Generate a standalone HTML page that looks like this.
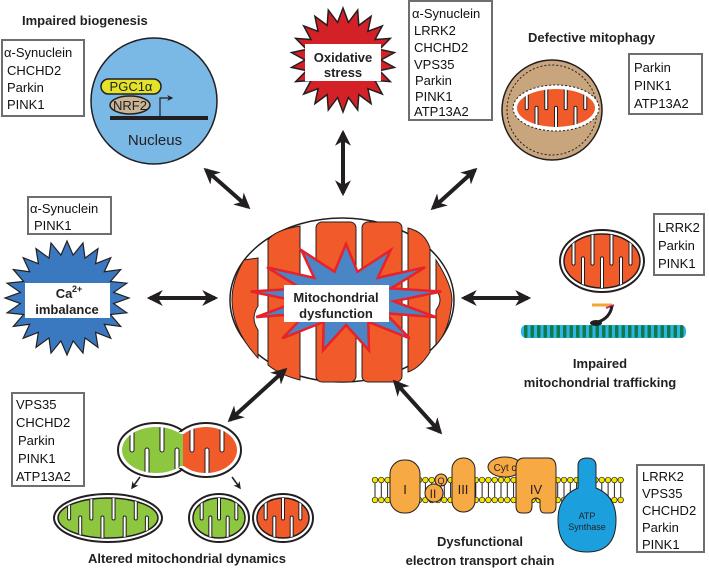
<!DOCTYPE html>
<html><head><meta charset="utf-8"><style>
html,body{margin:0;padding:0;background:#fff;}
svg{display:block;}
text{font-family:"Liberation Sans",sans-serif;}
.b{font-weight:bold;font-size:13px;fill:#231f20;}
.l{font-size:13px;fill:#111;}
</style></head><body>
<svg id="s" width="709" height="570" viewBox="0 0 709 570" xmlns="http://www.w3.org/2000/svg">
<defs>
<marker id="ah" viewBox="0 0 10 10" refX="8" refY="5" markerWidth="4" markerHeight="4" orient="auto-start-reverse"><path d="M0,0 L10,5 L0,10 L3,5 z" fill="#231f20"/></marker>
<marker id="ah2" viewBox="0 0 10 10" refX="8" refY="5" markerWidth="5" markerHeight="5" orient="auto"><path d="M0,0 L10,5 L0,10 L3,5 z" fill="#231f20"/></marker>
</defs>
<g id="g"></g>
<g stroke="#231f20" stroke-width="4" fill="none" marker-start="url(#ah)" marker-end="url(#ah)">
<line x1="206" y1="170" x2="248" y2="207"/>
<line x1="343" y1="133" x2="343" y2="193"/>
<line x1="475" y1="170" x2="433" y2="208"/>
<line x1="150" y1="298" x2="215" y2="298"/>
<line x1="464" y1="298" x2="528" y2="298"/>
<line x1="230" y1="420" x2="285" y2="370"/>
<line x1="395" y1="382" x2="440" y2="432"/>
</g>
<g stroke="#231f20" stroke-width="1.5" marker-end="url(#ah2)">
<line x1="140" y1="477" x2="132" y2="488"/>
<line x1="232" y1="477" x2="240" y2="488"/>
</g>
<g fill="#fff" stroke="#6d6e71" stroke-width="2">
<rect x="2" y="40" width="82" height="76"/>
<rect x="409" y="1" width="83" height="119"/>
<rect x="629" y="54" width="73" height="60"/>
<rect x="28" y="197" width="83" height="37"/>
<rect x="654" y="214" width="50" height="61"/>
<rect x="12" y="393" width="72" height="93"/>
<rect x="637" y="465" width="67" height="87"/>
</g>
<g class="l">
<text x="4" y="57">α-Synuclein</text><text x="7" y="75">CHCHD2</text><text x="7" y="92">Parkin</text><text x="7" y="109">PINK1</text>
<text x="412" y="18">α-Synuclein</text><text x="414" y="35">LRRK2</text><text x="414" y="52">CHCHD2</text><text x="414" y="69">VPS35</text><text x="415" y="85">Parkin</text><text x="415" y="101">PINK1</text><text x="414" y="116">ATP13A2</text>
<text x="634" y="72">Parkin</text><text x="634" y="90">PINK1</text><text x="634" y="108">ATP13A2</text>
<text x="30" y="213">α-Synuclein</text><text x="34" y="230">PINK1</text>
<text x="658" y="232">LRRK2</text><text x="658" y="250">Parkin</text><text x="658" y="268">PINK1</text>
<text x="16" y="409">VPS35</text><text x="16" y="427">CHCHD2</text><text x="18" y="445">Parkin</text><text x="18" y="463">PINK1</text><text x="16" y="481">ATP13A2</text>
<text x="642" y="481">LRRK2</text><text x="642" y="498">VPS35</text><text x="642" y="515">CHCHD2</text><text x="642" y="532">Parkin</text><text x="642" y="549">PINK1</text>
</g>
<g class="b">
<text x="22" y="25">Impaired biogenesis</text>
<text x="528" y="42">Defective mitophagy</text>
<text x="600" y="368" text-anchor="middle">Impaired</text>
<text x="600" y="387" text-anchor="middle">mitochondrial trafficking</text>
<text x="187" y="563" text-anchor="middle">Altered mitochondrial dynamics</text>
<text x="480" y="546" text-anchor="middle">Dysfunctional</text>
<text x="480" y="565" text-anchor="middle">electron transport chain</text>
</g>
</svg>
<script>
var NS="http://www.w3.org/2000/svg",G=document.getElementById('g');
function el(t,a,p){var e=document.createElementNS(NS,t);for(var k in a)e.setAttribute(k,a[k]);(p||G).appendChild(e);return e;}
function txt(x,y,s,a){var e=el('text',Object.assign({x:x,y:y,'text-anchor':'middle','font-weight':'bold','font-size':13,fill:'#231f20'},a||{}));e.textContent=s;return e;}
function star(cx,cy,ro,ri,n,fill,stroke,sw,rx,ry){var p=[];rx=rx||1;ry=ry||1;for(var i=0;i<2*n;i++){var r=i%2?ri:ro,a=Math.PI*i/n-Math.PI/2;p.push((cx+r*Math.cos(a)*rx).toFixed(1)+','+(cy+r*Math.sin(a)*ry).toFixed(1));}el('polygon',{points:p.join(' '),fill:fill,stroke:stroke,'stroke-width':sw,'stroke-linejoin':'miter'});}
var cid=0;
function cristae(g,x0,x1,cy,ry,nc,cw){var step=(x1-x0)/(nc+1),h=(ry-4)*1.3;
 for(var i=1;i<=nc;i++){var x=x0+i*step;var top=i%2==1;
  el('rect',{x:x-cw/2,y:top?cy-ry-4:cy+ry-h,width:cw,height:h+4,rx:cw/2,fill:'#fff',stroke:'#231f20','stroke-width':1},g);}}
function mito(cx,cy,rx,ry,col,nc,dashed){
 el('ellipse',{cx:cx,cy:cy,rx:rx,ry:ry,fill:'#fff',stroke:'#231f20','stroke-width':dashed?1:2,'stroke-dasharray':dashed?'2,2':'none'});
 var id='c'+(cid++);var cp=el('clipPath',{id:id});el('ellipse',{cx:cx,cy:cy,rx:rx-4,ry:ry-4},cp);
 el('ellipse',{cx:cx,cy:cy,rx:rx-4,ry:ry-4,fill:col,stroke:'#231f20','stroke-width':dashed?0:1.5});
 var g=el('g',{'clip-path':'url(#'+id+')'});
 cristae(g,cx-rx+4,cx+rx-4,cy,ry,nc,Math.max(3,(2*rx)/(nc+1)*0.25));
}
el('circle',{cx:154,cy:101,r:63,fill:'#7ab8e6',stroke:'#231f20','stroke-width':1.5});
el('rect',{x:101,y:79,width:60,height:15,rx:7.5,fill:'#e3e32b',stroke:'#231f20','stroke-width':1.5});
txt(131,91,'PGC1α',{'font-weight':'normal','font-size':13});
el('ellipse',{cx:130,cy:105,rx:20,ry:9,fill:'#c8b596',stroke:'#231f20','stroke-width':1.5});
txt(130,110,'NRF2',{'font-weight':'normal','font-size':13});
el('rect',{x:110,y:116,width:98,height:4,fill:'#231f20'});
el('path',{d:'M160,116 V98 H172',stroke:'#231f20','stroke-width':1.2,fill:'none','marker-end':'url(#ah2)'});
txt(155,145,'Nucleus',{'font-weight':'normal','font-size':15});
star(343,60,52,38,22,'#d42027','#231f20',1.5);
el('rect',{x:305,y:44,width:76,height:37,fill:'#fff'});
txt(343,62,'Oxidative');txt(343,77,'stress');
el('circle',{cx:552,cy:110,r:50,fill:'#c9a57e',stroke:'#231f20','stroke-width':1.5});
el('circle',{cx:552,cy:110,r:45,fill:'none',stroke:'#231f20','stroke-width':1,'stroke-dasharray':'2,2'});
mito(556,108,43,23,'#f15a29',7,true);
star(67,298,62,47,24,'#3a78bf','#231f20',1.2,1,0.92);
el('rect',{x:25,y:283,width:85,height:35,fill:'#fff'});
txt(64,298,'Ca');el('text',{x:72,y:292,'font-size':9,'font-weight':'bold',fill:'#231f20'}).textContent='2+';
txt(67,314,'imbalance');
el('ellipse',{cx:342,cy:300,rx:112,ry:82,fill:'#fff',stroke:'#231f20','stroke-width':1.5});
el('path',{d:'M244,260 Q232,280 232,300 Q232,330 258,358 L258,330 Q250,318 258,306 L258,258 Z',fill:'#f15a29',stroke:'#231f20','stroke-width':1});
el('path',{d:'M268,240 Q275,230 300,226 L300,380 Q280,375 268,365 Z',fill:'#f15a29',stroke:'#231f20','stroke-width':1});
el('rect',{x:316,y:222,width:40,height:160,rx:6,fill:'#f15a29',stroke:'#231f20','stroke-width':1});
el('rect',{x:362,y:222,width:40,height:160,rx:6,fill:'#f15a29',stroke:'#231f20','stroke-width':1});
el('path',{d:'M408,228 Q425,232 430,248 L430,352 Q420,368 408,372 Z',fill:'#f15a29',stroke:'#231f20','stroke-width':1});
el('path',{d:'M436,260 Q452,285 452,300 Q450,330 436,345 L436,310 Q444,300 436,290 Z',fill:'#f15a29',stroke:'#231f20','stroke-width':1});
star(346,298,60,30,13,'#4a86c5','#e8212a',2.5,1.6,0.9);
el('rect',{x:284,y:285,width:105,height:37,fill:'#fff'});
txt(336,302,'Mitochondrial');txt(336,318,'dysfunction');
mito(602,261,42,31,'#f15a29',7);
el('rect',{x:521,y:325,width:165,height:13,rx:5,fill:'#2bb5e6'});
for(var x=524;x<684;x+=6.5)el('rect',{x:x,y:325,width:3.5,height:13,rx:1.7,fill:'#127a4a'});
el('line',{x1:592,y1:305,x2:612,y2:305,stroke:'#f0a830','stroke-width':3});
el('line',{x1:606,y1:308,x2:614,y2:305,stroke:'#d02090','stroke-width':2});
el('path',{d:'M612,306 Q610,318 598,322',stroke:'#231f20','stroke-width':3,fill:'none'});
el('ellipse',{cx:596,cy:323,rx:6,ry:3,fill:'#231f20'});
el('ellipse',{cx:156,cy:450,rx:38,ry:27,fill:'#fff',stroke:'#231f20','stroke-width':2});
el('ellipse',{cx:206,cy:450,rx:35,ry:27,fill:'#fff',stroke:'#231f20','stroke-width':2});
el('ellipse',{cx:181,cy:450,rx:14,ry:18,fill:'#fff'});
var fc=el('clipPath',{id:'fz'});el('ellipse',{cx:156,cy:450,rx:34,ry:23},fc);el('ellipse',{cx:206,cy:450,rx:31,ry:23},fc);el('rect',{x:170,y:434,width:22,height:32},fc);
var fg=el('g',{'clip-path':'url(#fz)'});
el('rect',{x:115,y:420,width:68,height:60,fill:'#8dc63f'},fg);
el('rect',{x:183,y:420,width:60,height:60,fill:'#f15a29'},fg);
[132,147,162,177,192,207,222].forEach(function(x,i){var top=i%2==0;el('rect',{x:x-2,y:top?420:448,width:4,height:32,rx:2,fill:'#fff',stroke:'#231f20','stroke-width':1},fg);});
mito(108,518,54,24,'#8dc63f',8);
mito(219,518,30,24,'#8dc63f',5);
mito(283,518,30,24,'#f15a29',5);
for(var x=375;x<626;x+=6.3){el('line',{x1:x,y1:482,x2:x,y2:498,stroke:'#231f20','stroke-width':1});
 el('circle',{cx:x,cy:480,r:2.8,fill:'#f2e600',stroke:'#231f20','stroke-width':.7});
 el('circle',{cx:x,cy:500,r:2.8,fill:'#f2e600',stroke:'#231f20','stroke-width':.7});}
var O='#f7a944';
el('rect',{x:390,y:460,width:30,height:53,rx:14,fill:O,stroke:'#231f20','stroke-width':1});txt(405,494,'I',{'font-weight':'normal','font-size':13});
el('circle',{cx:434,cy:493,r:9,fill:O,stroke:'#231f20','stroke-width':1});txt(433,498,'II',{'font-weight':'normal','font-size':12});
el('circle',{cx:441,cy:480,r:6,fill:O,stroke:'#231f20','stroke-width':1});txt(441,484,'Q',{'font-weight':'normal','font-size':9});
el('rect',{x:452,y:458,width:23,height:54,rx:11,fill:O,stroke:'#231f20','stroke-width':1});txt(463,494,'III',{'font-weight':'normal','font-size':13});
el('ellipse',{cx:505,cy:467,rx:17,ry:10,fill:O,stroke:'#231f20','stroke-width':1});txt(505,471,'Cyt c',{'font-weight':'normal','font-size':10});
el('path',{d:'M524,458 H548 Q556,458 556,468 V506 Q556,513 550,513 H544 Q540,513 540,506 V500 Q536,496 532,500 V506 Q532,513 526,513 H522 Q516,513 516,506 V468 Q516,458 524,458 Z',fill:O,stroke:'#231f20','stroke-width':1});txt(536,494,'IV',{'font-weight':'normal','font-size':13});
el('path',{d:'M578,466 Q578,458 587,458 Q596,458 596,466 V488 Q616,496 616,520 Q616,552 587,552 Q558,552 558,520 Q558,496 578,488 Z',fill:'#1ca0dd',stroke:'#231f20','stroke-width':1});
txt(587,519,'ATP',{'font-weight':'normal','font-size':9});txt(587,530,'Synthase',{'font-weight':'normal','font-size':9});
</script>
</body></html>
